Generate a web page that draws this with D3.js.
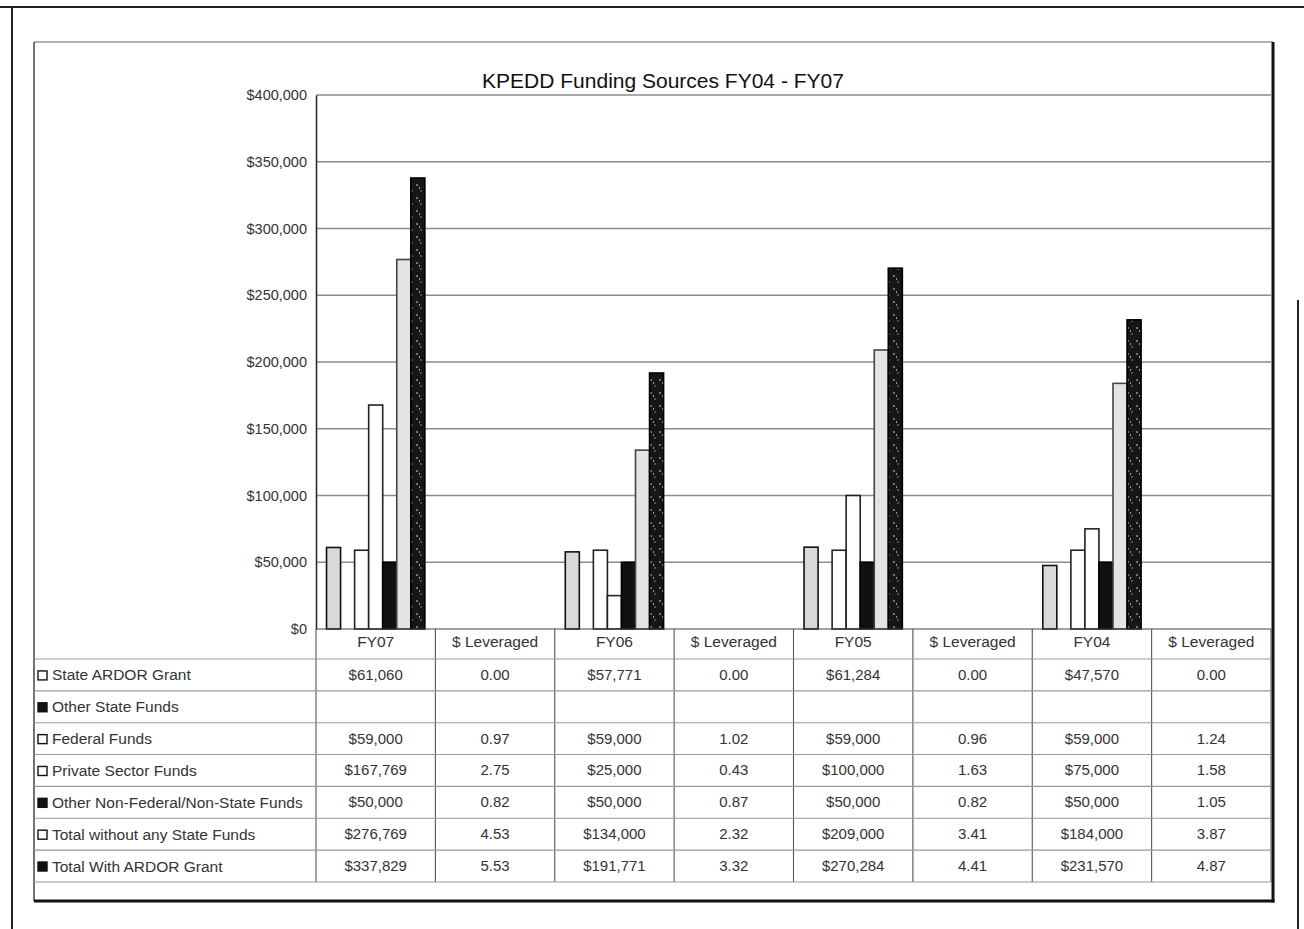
<!DOCTYPE html>
<html>
<head>
<meta charset="utf-8">
<script src="https://cdn.jsdelivr.net/npm/d3@7/dist/d3.min.js"></script>
<style>
  html, body { margin: 0; padding: 0; background: #fff; }
  svg { display: block; }
  text { font-family: "Liberation Sans", Arial, sans-serif; fill: #2a2a2a; }
</style>
</head>
<body>
<svg id="chart" width="1304" height="929"></svg>
<script>
// ---- data ----
const title = "KPEDD Funding Sources FY04 - FY07";
const categories = ["FY07", "$ Leveraged", "FY06", "$ Leveraged", "FY05", "$ Leveraged", "FY04", "$ Leveraged"];
const seriesNames = ["State ARDOR Grant", "Other State Funds", "Federal Funds", "Private Sector Funds",
  "Other Non-Federal/Non-State Funds", "Total without any State Funds", "Total With ARDOR Grant"];
const stateArdor   = [61060, 0.00, 57771, 0.00, 61284, 0.00, 47570, 0.00];
const otherState   = [null, null, null, null, null, null, null, null];
const federal      = [59000, 0.97, 59000, 1.02, 59000, 0.96, 59000, 1.24];
const privateFunds = [167769, 2.75, 25000, 0.43, 100000, 1.63, 75000, 1.58];
const otherNonFed  = [50000, 0.82, 50000, 0.87, 50000, 0.82, 50000, 1.05];
const totalWithout = [276769, 4.53, 134000, 2.32, 209000, 3.41, 184000, 3.87];
const totalWith    = [337829, 5.53, 191771, 3.32, 270284, 4.41, 231570, 4.87];
const yTicks = [0, 50000, 100000, 150000, 200000, 250000, 300000, 350000, 400000];

const seriesValues = [stateArdor, otherState, federal, privateFunds, otherNonFed, totalWithout, totalWith];
const isMoneyCol = categories.map(c => c !== "$ Leveraged");

// ---- styles ----
const barFill = ["#d9d9d9", "#000", "#fff", "#fff", "#111", "#e4e4e4", "url(#speckle)"];
const barStroke = ["#111", "#000", "#222", "#222", "#000", "#444", "#000"];
const keyFill = ["#fff", "#111", "#fff", "#fff", "#111", "#fff", "#111"];

const svg = d3.select("#chart");
const defs = svg.append("defs");
const pat = defs.append("pattern").attr("id", "speckle").attr("patternUnits", "userSpaceOnUse")
  .attr("width", 9).attr("height", 13);
pat.append("rect").attr("width", 9).attr("height", 13).attr("fill", "#161616");
pat.append("circle").attr("cx", 3).attr("cy", 3).attr("r", 1.1).attr("fill", "#8a8a8a");
pat.append("circle").attr("cx", 7).attr("cy", 9).attr("r", 0.9).attr("fill", "#6a6a6a");
pat.append("rect").attr("x", 5).attr("y", 5).attr("width", 1).attr("height", 2).attr("fill", "#9a9a9a");

// page frame lines
svg.append("line").attr("x1", 0).attr("x2", 1304).attr("y1", 7).attr("y2", 7).attr("stroke", "#222").attr("stroke-width", 2);
svg.append("line").attr("x1", 12).attr("x2", 12).attr("y1", 6).attr("y2", 929).attr("stroke", "#222").attr("stroke-width", 2);
svg.append("line").attr("x1", 1298).attr("x2", 1298).attr("y1", 300).attr("y2", 929).attr("stroke", "#222").attr("stroke-width", 2);

// chart area box
const box = { l: 34, t: 42, r: 1273, b: 901 };
svg.append("line").attr("x1", box.l).attr("x2", box.r).attr("y1", box.t).attr("y2", box.t).attr("stroke", "#666").attr("stroke-width", 1.2);
svg.append("line").attr("x1", box.l).attr("x2", box.l).attr("y1", box.t).attr("y2", box.b).attr("stroke", "#444").attr("stroke-width", 1.5);
svg.append("line").attr("x1", box.r).attr("x2", box.r).attr("y1", box.t).attr("y2", box.b + 1.5).attr("stroke", "#111").attr("stroke-width", 3);
svg.append("line").attr("x1", box.l).attr("x2", box.r + 1.5).attr("y1", box.b).attr("y2", box.b).attr("stroke", "#111").attr("stroke-width", 3);

// title
svg.append("text").attr("x", 663).attr("y", 88).attr("text-anchor", "middle")
  .style("font-size", "21px").style("fill", "#111").text(title);

// plot
const plot = { l: 316, r: 1271, t: 95, b: 629 };
const x = d3.scaleBand().domain(d3.range(categories.length)).range([plot.l, plot.r]).padding(0);
const gapFrac = 0.75;
const x1 = d3.scaleBand().domain(d3.range(seriesNames.length)).range([0, x.bandwidth()])
  .paddingInner(0).paddingOuter(gapFrac);
const y = d3.scaleLinear().domain([0, 400000]).range([plot.b, plot.t]);

// gridlines
svg.append("g").selectAll("line").data(yTicks.filter(d => d > 0)).join("line")
  .attr("x1", plot.l).attr("x2", plot.r).attr("y1", d => y(d)).attr("y2", d => y(d))
  .attr("stroke", "#8c8c8c").attr("stroke-width", 1.4);

// y axis
const yAxis = d3.axisLeft(y).tickValues(yTicks).tickSize(0).tickPadding(8)
  .tickFormat(d => "$" + d3.format(",")(d));
const gy = svg.append("g").attr("transform", `translate(${plot.l},0)`).call(yAxis);
gy.select(".domain").attr("stroke", "#222").attr("stroke-width", 1.5);
gy.selectAll("text").style("font-size", "14.5px").style("fill", "#333").attr("dx", -1);

// bars
const barData = [];
seriesValues.forEach((vals, si) => {
  vals.forEach((v, ci) => { if (v !== null) barData.push({ si, ci, v }); });
});
svg.append("g").selectAll("rect").data(barData).join("rect")
  .attr("x", d => x(d.ci) + x1(d.si))
  .attr("width", x1.bandwidth())
  .attr("y", d => y(d.v))
  .attr("height", d => y(0) - y(d.v))
  .attr("fill", d => barFill[d.si])
  .attr("stroke", d => (y(0) - y(d.v)) > 1 ? barStroke[d.si] : "none")
  .attr("stroke-width", 1.6);

// baseline
svg.append("line").attr("x1", plot.l).attr("x2", plot.r).attr("y1", plot.b).attr("y2", plot.b)
  .attr("stroke", "#444").attr("stroke-width", 1.2);

// data table
const headerBottom = 659;
const rowH = 31.85;
const tableBottom = headerBottom + rowH * seriesNames.length;
const rowY = i => headerBottom + rowH * i;

// vertical dividers
svg.append("g").selectAll("line").data(d3.range(categories.length + 1)).join("line")
  .attr("x1", i => i < categories.length ? x(i) : plot.r)
  .attr("x2", i => i < categories.length ? x(i) : plot.r)
  .attr("y1", plot.b).attr("y2", tableBottom)
  .attr("stroke", "#555").attr("stroke-width", 1.1);

// horizontal lines
svg.append("g").selectAll("line").data(d3.range(seriesNames.length + 1)).join("line")
  .attr("x1", box.l).attr("x2", plot.r)
  .attr("y1", i => rowY(i)).attr("y2", i => rowY(i))
  .attr("stroke", "#999").attr("stroke-width", 1.1);

// header labels
svg.append("g").selectAll("text").data(categories).join("text")
  .attr("x", (d, i) => x(i) + x.bandwidth() / 2)
  .attr("y", 647).attr("text-anchor", "middle")
  .style("font-size", "15.5px").style("fill", "#333").text(d => d);

// row labels + keys
const rows = svg.append("g").selectAll("g").data(seriesNames).join("g")
  .attr("transform", (d, i) => `translate(0,${rowY(i) + rowH / 2})`);
rows.append("rect").attr("x", 38).attr("y", -4).attr("width", 9).attr("height", 9)
  .attr("fill", (d, i) => keyFill[i]).attr("stroke", "#111").attr("stroke-width", 1.4);
rows.append("text").attr("x", 52).attr("y", 5.5)
  .style("font-size", "15.5px").style("fill", "#333").text(d => d);

// cell values
const fmtMoney = v => "$" + d3.format(",")(v);
const fmtRatio = d3.format(".2f");
const cells = [];
seriesValues.forEach((vals, si) => vals.forEach((v, ci) => {
  if (v !== null) cells.push({ si, ci, t: isMoneyCol[ci] ? fmtMoney(v) : fmtRatio(v) });
}));
svg.append("g").selectAll("text").data(cells).join("text")
  .attr("x", d => x(d.ci) + x.bandwidth() / 2)
  .attr("y", d => rowY(d.si) + rowH / 2 + 5)
  .attr("text-anchor", "middle")
  .style("font-size", "15px").style("fill", "#333").text(d => d.t);
</script>
</body>
</html>
